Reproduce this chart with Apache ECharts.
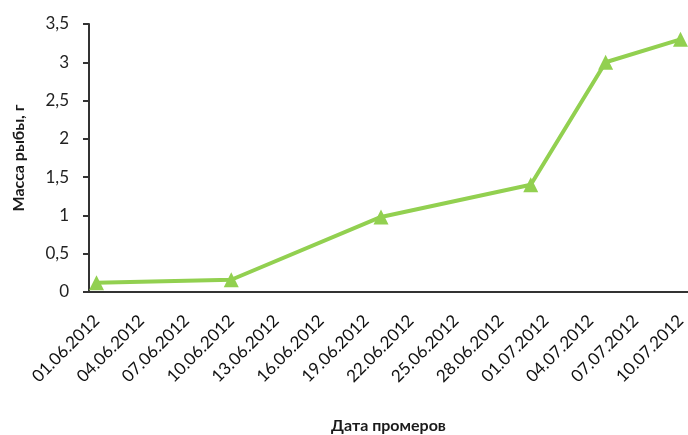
<!DOCTYPE html>
<html lang="ru">
<head>
<meta charset="UTF-8">
<title>Масса рыбы</title>
<script src="https://cdn.jsdelivr.net/npm/echarts@6/dist/echarts.min.js"></script>
<style>
  html, body { margin: 0; padding: 0; background: #fff; }
  #main { width: 688px; height: 435px; }
</style>
</head>
<body>
<div id="main"></div>
<script>
// даты промеров и масса рыбы (г)
var measureDates = ['01.06.2012', '10.06.2012', '20.06.2012', '30.06.2012', '05.07.2012', '10.07.2012'];
var fishMass = [0.12, 0.16, 0.98, 1.4, 3.0, 3.3];
var yTicks = [0, 0.5, 1, 1.5, 2, 2.5, 3, 3.5];

// ось дат: каждый день с 01.06.2012 по 10.07.2012
var days = [];
var d = new Date(2012, 5, 1);
var end = new Date(2012, 6, 10);
function pad(n) { return (n < 10 ? '0' : '') + n; }
while (d <= end) {
    days.push(pad(d.getDate()) + '.' + pad(d.getMonth() + 1) + '.' + d.getFullYear());
    d.setDate(d.getDate() + 1);
}

var points = [];
for (var i = 0; i < measureDates.length; i++) {
    points.push([measureDates[i], fishMass[i]]);
}

var font = 'Lato, "Open Sans", sans-serif';
var myChart = echarts.init(document.getElementById('main'));
myChart.setOption({
    animation: false,
    grid: { left: 89, right: 0, top: 24, bottom: 143, outerBoundsMode: 'none', containLabel: false },
    xAxis: {
        type: 'category',
        data: days,
        boundaryGap: true,
        name: 'Дата промеров',
        nameLocation: 'middle',
        nameGap: 126,
        nameTextStyle: { fontFamily: font, fontSize: 16, fontWeight: 'bold', color: '#1a1a1a' },
        axisLine: { lineStyle: { color: '#333', width: 2 } },
        axisTick: { interval: 2, length: 6, lineStyle: { color: '#333', width: 2 } },
        axisLabel: {
            interval: 2,
            rotate: 45,
            margin: 26,
            fontFamily: font,
            fontSize: 17,
            color: '#111'
        },
        splitLine: { show: false }
    },
    yAxis: {
        type: 'value',
        min: yTicks[0],
        max: yTicks[yTicks.length - 1],
        interval: 0.5,
        name: 'Масса рыбы, г',
        nameLocation: 'middle',
        nameGap: 62,
        nameTextStyle: { fontFamily: font, fontSize: 16, fontWeight: 'bold', color: '#1a1a1a' },
        axisLine: { show: true, lineStyle: { color: '#333', width: 2 } },
        axisTick: { show: true, length: 6, lineStyle: { color: '#333', width: 2 } },
        axisLabel: {
            margin: 20,
            fontFamily: font,
            fontSize: 17,
            color: '#222',
            formatter: function (v) { return String(v).replace('.', ','); }
        },
        splitLine: { show: false }
    },
    series: [{
        type: 'line',
        data: points,
        showAllSymbol: true,
        symbol: 'triangle',
        symbolSize: 15,
        lineStyle: { color: '#92D050', width: 4 },
        itemStyle: { color: '#92D050' }
    }]
});
</script>
</body>
</html>
